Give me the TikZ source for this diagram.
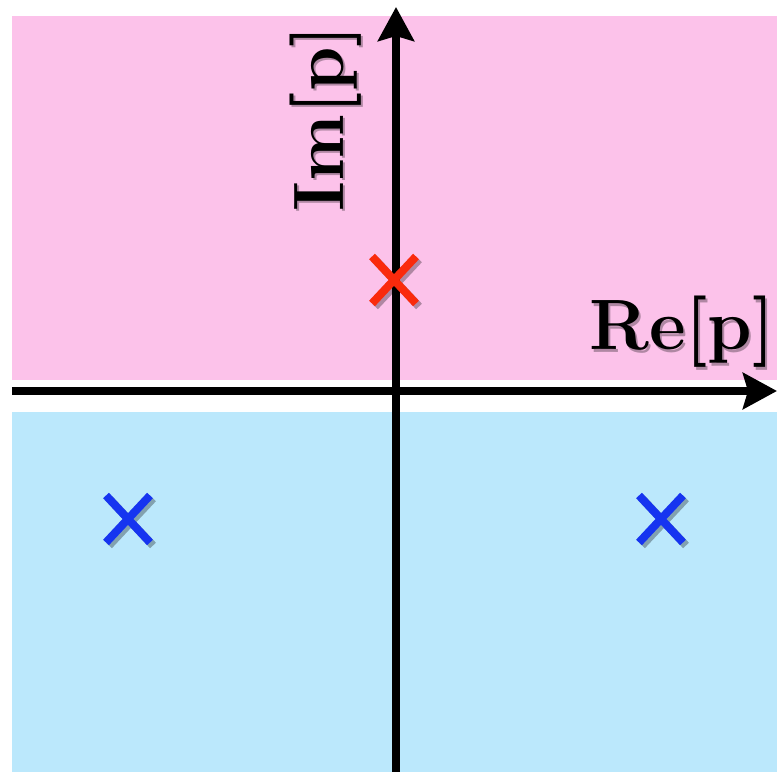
\documentclass[tikz,border=0pt]{standalone}
\usepackage{xcolor}
\usepackage{tikz}
\usetikzlibrary{arrows.meta, shapes.misc}
\definecolor{upper}{RGB}{252,194,234}
\definecolor{lower}{RGB}{187,232,252}
\definecolor{polered}{RGB}{250,42,12}
\definecolor{poleblue}{RGB}{22,52,240}

\begin{document}
\begin{tikzpicture}[
    axis/.style={line width=0.08cm, draw=black, -{Stealth[length=0.34cm, width=0.36cm, inset=0.05cm]}},
    pole/.style={cross out, draw, line width=0.08cm, minimum width=0.36cm, minimum height=0.39cm, inner sep=0pt},
    poleshadow/.style={pole, draw=black, opacity=0.3},
    lbl/.style={font=\fontsize{20.3}{22}\selectfont\bfseries, inner sep=0pt},
    lblshadow/.style={lbl, text=black, opacity=0.3}
]
\useasboundingbox (0,0) rectangle (7.77,7.72);
\fill[upper] (0.12,3.92) rectangle (7.77,7.56);
\fill[lower] (0.12,0) rectangle (7.77,3.60);

\coordinate (xl) at (0.12,3.81);
\coordinate (xr) at (7.77,3.81);
\coordinate (yb) at (3.96,0);
\coordinate (yt) at (3.96,7.65);
\draw[axis] (xl) -- (xr);
\draw[axis] (yb) -- (yt);

% poles with soft shadow
\node[poleshadow] at (3.97,4.89) {};
\node[poleshadow] at (1.31,2.50) {};
\node[poleshadow] at (6.64,2.50) {};
\node[pole, draw=polered] (pr) at (3.94,4.92) {};
\node[pole, draw=poleblue] (pl) at (1.28,2.53) {};
\node[pole, draw=poleblue] (pb) at (6.61,2.53) {};

\node[lblshadow] at (6.84,4.37) {Re[p]};
\node[lbl] (re) at (6.82,4.40) {Re[p]};
\node[lblshadow, rotate=90] at (3.28,6.52) {Im[p]};
\node[lbl, rotate=90] (im) at (3.26,6.54) {Im[p]};
\end{tikzpicture}
\end{document}
